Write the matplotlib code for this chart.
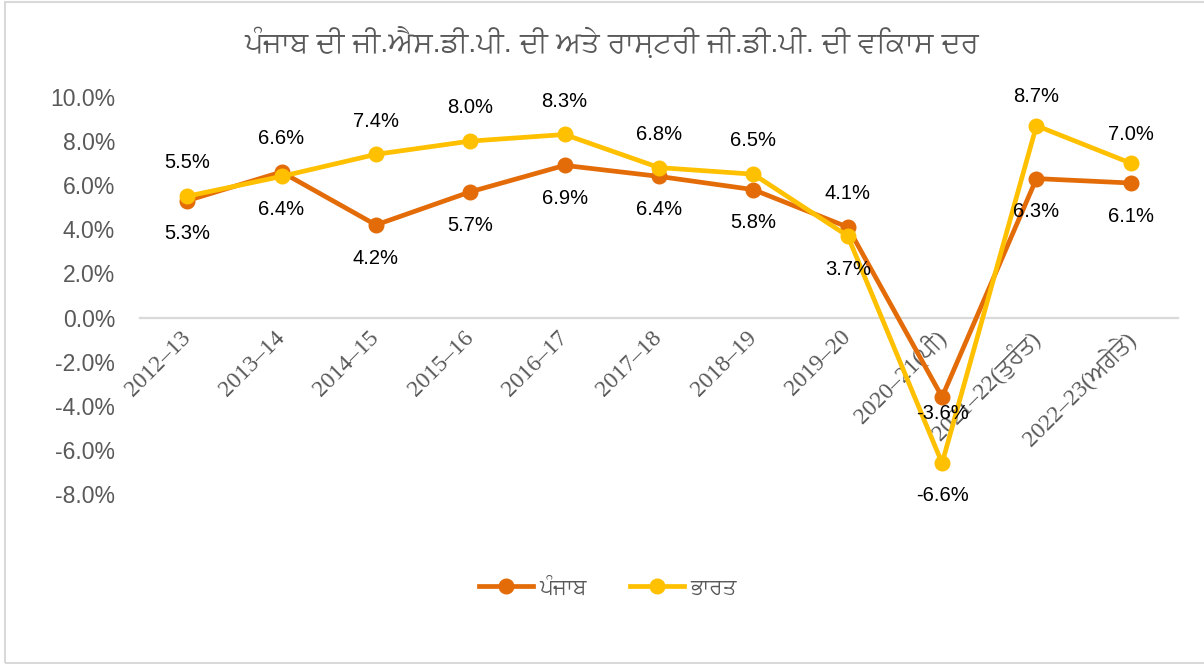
import matplotlib
matplotlib.use('Agg')
import matplotlib.pyplot as plt
from matplotlib import font_manager
from matplotlib.ft2font import FT2Font
from matplotlib.patches import Rectangle
from matplotlib.ticker import FuncFormatter
import numpy as np

# data
years = ['2012–13', '2013–14', '2014–15', '2015–16', '2016–17', '2017–18',
         '2018–19', '2019–20', '2020–21(ਪੀ)', '2021–22(ਤੁਰੰਤ)', '2022–23(ਅਗੇਤੇ)']
punjab = [5.3, 6.6, 4.2, 5.7, 6.9, 6.4, 5.8, 4.1, -3.6, 6.3, 6.1]
india = [5.5, 6.4, 7.4, 8.0, 8.3, 6.8, 6.5, 3.7, -6.6, 8.7, 7.0]
# label offset from the point, in points (+ above, - below)
punjab_off = [-24, 24, -24, -24, -24, -24, -24, 24, -12, -24, -24]
india_off = [24, -24, 24, 24, 24, 24, 24, -24, -23, 21, 21]

title = 'ਪੰਜਾਬ ਦੀ ਜੀ.ਐਸ.ਡੀ.ਪੀ. ਦੀ ਅਤੇ ਰਾਸ਼ਟਰੀ ਜੀ.ਡੀ.ਪੀ. ਦੀ ਵਿਕਾਸ ਦਰ'


# fonts that have Gurmukhi glyphs, FreeSans first (Unifont looks blocky)
def gurmukhi_fonts():
    found = []
    for f in font_manager.fontManager.ttflist:
        try:
            if FT2Font(f.fname).get_char_index(0x0A2A):
                found.append(f.name)
        except Exception:
            pass
    pref = ['FreeSans', 'FreeSerif']
    found = list(dict.fromkeys(found))
    return [n for n in pref if n in found] + [n for n in found if n not in pref]


gur = gurmukhi_fonts()
sans = ['Liberation Sans', 'DejaVu Sans'] + gur
serif = ['Liberation Serif', 'DejaVu Serif'] + gur
plt.rcParams['font.family'] = sans

grey = '#595959'
c_pb = '#E36C09'
c_in = '#FFC000'

fig = plt.figure(figsize=(12.04, 6.64), dpi=100)
ax = fig.add_axes([140 / 1204, 1 - 494 / 664, (1178 - 140) / 1204, (494 - 97) / 664])

x = np.arange(len(years))
ax.plot(x, punjab, color=c_pb, lw=3.4, marker='o', ms=10.5, label='ਪੰਜਾਬ', zorder=3)
ax.plot(x, india, color=c_in, lw=3.4, marker='o', ms=10.5, label='ਭਾਰਤ', zorder=4)

for xi, v, o in zip(x, punjab, punjab_off):
    ax.annotate(f'{v:.1f}%', (xi, v), xytext=(0, o), textcoords='offset points',
                ha='center', va='center', fontsize=14.5, color='black', zorder=5)
for xi, v, o in zip(x, india, india_off):
    ax.annotate(f'{v:.1f}%', (xi, v), xytext=(0, o), textcoords='offset points',
                ha='center', va='center', fontsize=14.5, color='black', zorder=5)

ax.set_xlim(-0.5, len(years) - 0.5)
ax.set_ylim(-8, 10)
ax.set_yticks(np.arange(-8, 10.1, 2))
ax.yaxis.set_major_formatter(FuncFormatter(lambda v, p: f'{v:.1f}%'))
ax.tick_params(axis='y', length=0, pad=18, labelsize=16.5, labelcolor=grey)

for s in ['top', 'right', 'left']:
    ax.spines[s].set_visible(False)
ax.spines['bottom'].set_position(('data', 0))
ax.spines['bottom'].set_color('#D9D9D9')
ax.spines['bottom'].set_linewidth(1.6)
ax.spines['bottom'].set_zorder(1)

ax.set_xticks(x)
ax.set_xticklabels(years, rotation=45, ha='right', va='center', rotation_mode='anchor',
                   family=serif, fontsize=17, color=grey)
ax.tick_params(axis='x', length=0, pad=12)

# the oblique FreeSans has no Gurmukhi, so the title stays upright
fig.text(612 / 1204, 1 - 42 / 664, title, ha='center', va='center', fontsize=21,
         color=grey)

fig.legend(loc='center', bbox_to_anchor=(608 / 1204, 1 - 588 / 664), ncol=2, frameon=False,
           fontsize=15.5, handlelength=2.5, handletextpad=0.3, columnspacing=2.0,
           labelcolor=grey)

fig.patches.append(Rectangle((5 / 1204, 1 / 664), 1.2, 661 / 664, transform=fig.transFigure,
                             fill=False, ec='#D9D9D9', lw=1.5))

fig.savefig('out.png', dpi=100)
